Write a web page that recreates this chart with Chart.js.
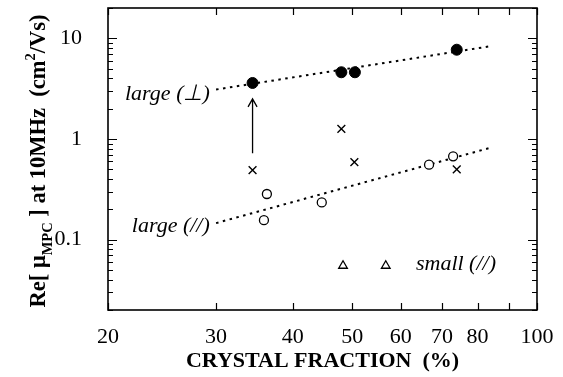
<!DOCTYPE html>
<html>
<head>
<meta charset="utf-8">
<script src="https://cdn.jsdelivr.net/npm/chart.js@4.4.1/dist/chart.umd.min.js"></script>
<style>
  html, body { margin: 0; padding: 0; background: #fff; }
  #wrap { width: 563px; height: 377px; }
</style>
</head>
<body>
<div id="wrap"><canvas id="mobilityChart" width="563" height="377"></canvas></div>
<script>
// values
const fitX = [30, 83.5];
const perpFit = [3.1, 8.3];
const paraFit = [0.146, 0.81];

const perpX = [34.4, 48.0, 50.5, 74.0];
const perpY = [3.6, 4.6, 4.6, 7.7];

const crossX = [34.4, 48.0, 50.4, 74.0];
const crossY = [0.49, 1.26, 0.59, 0.50];

const paraX = [36.3, 35.9, 44.6, 66.7, 73.0];
const paraY = [0.284, 0.156, 0.234, 0.555, 0.673];

const smallX = [48.3, 56.7];
const smallY = [0.055, 0.055];

const arrowX = 34.4;
const arrowFromTo = [0.72, 2.5];

const xTicks = [20, 30, 40, 50, 60, 70, 80, 90, 100];
const xLabels = ['20', '30', '40', '50', '60', '70', '80', '', '100'];
const yTicks = [0.1, 1, 10];
const yLabels = ['0.1', '1', '10'];

const serif = '"Liberation Serif", "Times New Roman", serif';

function pts(xs, ys) {
  return xs.map((x, i) => ({ x: x, y: ys[i] }));
}

function noPadding(s) {
  s.paddingTop = 0;
  s.paddingBottom = 0;
  s.paddingLeft = 0;
  s.paddingRight = 0;
}

// frame, inward ticks, arrow, y title and the in-plot labels
const decorations = {
  id: 'decorations',
  afterDraw(chart) {
    const ctx = chart.ctx;
    const a = chart.chartArea;
    const xs = chart.scales.x, ys = chart.scales.y;
    ctx.save();
    ctx.strokeStyle = '#000';
    ctx.fillStyle = '#000';

    // ticks
    ctx.lineWidth = 1.2;
    ctx.beginPath();
    xTicks.forEach(v => {
      const px = Math.round(xs.getPixelForValue(v)) + 0.5;
      ctx.moveTo(px, a.bottom); ctx.lineTo(px, a.bottom - 7);
      ctx.moveTo(px, a.top); ctx.lineTo(px, a.top + 7);
    });
    for (let d = 0.01; d < 20; d *= 10) {
      for (let m = 1; m <= 9; m++) {
        const v = d * m;
        if (v < ys.min || v > ys.max) continue;
        const py = Math.round(ys.getPixelForValue(v)) + 0.5;
        const len = m === 1 ? 9 : 5;
        ctx.moveTo(a.left, py); ctx.lineTo(a.left + len, py);
        ctx.moveTo(a.right, py); ctx.lineTo(a.right - len, py);
      }
    }
    ctx.stroke();

    // frame
    ctx.lineWidth = 1.6;
    ctx.strokeRect(a.left, a.top, a.right - a.left, a.bottom - a.top);

    // arrow
    const ax = xs.getPixelForValue(arrowX);
    const y0 = ys.getPixelForValue(arrowFromTo[0]);
    const y1 = ys.getPixelForValue(arrowFromTo[1]);
    ctx.lineWidth = 1.3;
    ctx.beginPath();
    ctx.moveTo(ax, y0); ctx.lineTo(ax, y1);
    ctx.moveTo(ax - 4.5, y1 + 8); ctx.lineTo(ax, y1); ctx.lineTo(ax + 4.5, y1 + 8);
    ctx.stroke();

    // labels in the plot
    ctx.font = 'italic 22px ' + serif;
    ctx.textBaseline = 'alphabetic';
    ctx.textAlign = 'right';
    ctx.fillText('large (\u22A5)', xs.getPixelForValue(29.3), ys.getPixelForValue(3.1) + 10);
    ctx.fillText('large (//)', xs.getPixelForValue(29.3), ys.getPixelForValue(0.146) + 9);
    ctx.textAlign = 'left';
    ctx.fillText('small (//)', xs.getPixelForValue(63.5), ys.getPixelForValue(0.055) + 4);

    // y axis title with subscript and superscript
    const parts = [
      ['Re[ \u03BC', 22.5, 0],
      ['MPC', 14.5, 7],
      [' ] at 10MHz  (cm', 22.5, 0],
      ['2', 14.5, -10],
      ['/Vs)', 22.5, 0]
    ];
    let total = 0;
    parts.forEach(p => {
      ctx.font = 'bold ' + p[1] + 'px ' + serif;
      total += ctx.measureText(p[0]).width;
    });
    ctx.translate(45, 161);
    ctx.rotate(-Math.PI / 2);
    let cx = -total / 2;
    parts.forEach(p => {
      ctx.font = 'bold ' + p[1] + 'px ' + serif;
      ctx.fillText(p[0], cx, p[2]);
      cx += ctx.measureText(p[0]).width;
    });
    ctx.restore();
  }
};

new Chart(document.getElementById('mobilityChart'), {
  type: 'scatter',
  data: {
    datasets: [
      {
        label: 'large perp',
        data: pts(perpX, perpY),
        pointStyle: 'circle',
        pointRadius: 5.5,
        backgroundColor: '#000',
        borderColor: '#000',
        borderWidth: 1
      },
      {
        label: 'cross',
        data: pts(crossX, crossY),
        pointStyle: 'crossRot',
        pointRadius: 5.5,
        borderColor: '#000',
        borderWidth: 1.4
      },
      {
        label: 'large para',
        data: pts(paraX, paraY),
        pointStyle: 'circle',
        pointRadius: 4.5,
        backgroundColor: '#fff',
        borderColor: '#000',
        borderWidth: 1.3
      },
      {
        label: 'small para',
        data: pts(smallX, smallY),
        pointStyle: 'triangle',
        pointRadius: 5,
        backgroundColor: '#fff',
        borderColor: '#000',
        borderWidth: 1.3
      },
      {
        label: 'perp fit',
        type: 'line',
        data: pts(fitX, perpFit),
        borderColor: '#000',
        borderWidth: 2,
        borderDash: [2.5, 4.5],
        pointRadius: 0,
        fill: false
      },
      {
        label: 'para fit',
        type: 'line',
        data: pts(fitX, paraFit),
        borderColor: '#000',
        borderWidth: 2,
        borderDash: [2.5, 4.5],
        pointRadius: 0,
        fill: false
      }
    ]
  },
  options: {
    responsive: false,
    animation: false,
    events: [],
    layout: { padding: { top: 8, right: 26, left: 0, bottom: 0 } },
    plugins: { legend: { display: false }, tooltip: { enabled: false } },
    scales: {
      x: {
        type: 'logarithmic',
        min: 20,
        max: 100,
        afterBuildTicks: s => { s.ticks = xTicks.map(v => ({ value: v })); },
        afterFit: s => { s.height = 67; noPadding(s); },
        grid: { display: false },
        border: { display: false },
        ticks: {
          autoSkip: false,
          maxRotation: 0,
          padding: 6,
          color: '#000',
          font: { family: serif, size: 22 },
          callback: (v, i) => xLabels[i]
        },
        title: {
          display: true,
          text: 'CRYSTAL FRACTION  (%)',
          color: '#000',
          font: { family: serif, size: 22, weight: 'bold' },
          padding: { top: 0, bottom: 2 }
        }
      },
      y: {
        type: 'logarithmic',
        min: 0.02,
        max: 20,
        afterBuildTicks: s => { s.ticks = yTicks.map(v => ({ value: v })); },
        afterFit: s => { s.width = 108; noPadding(s); },
        grid: { display: false },
        border: { display: false },
        ticks: {
          padding: 18,
          color: '#000',
          font: { family: serif, size: 22 },
          callback: (v, i) => yLabels[i]
        }
      }
    }
  },
  plugins: [decorations]
});
</script>
</body>
</html>
